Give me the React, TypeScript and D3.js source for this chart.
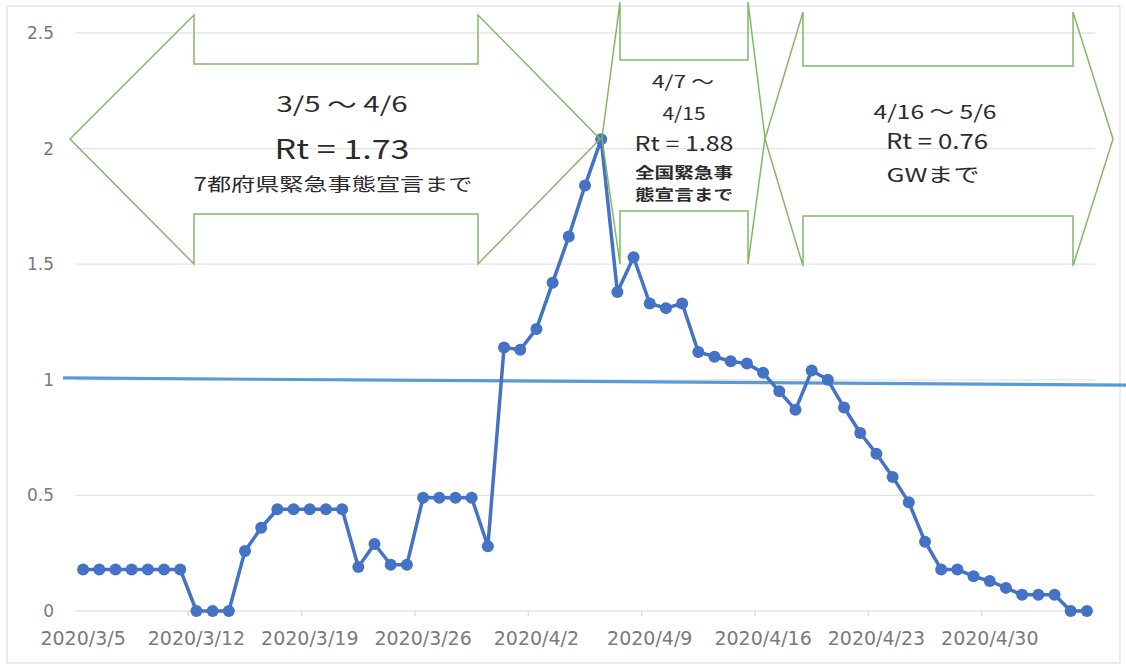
import React from 'react';
import * as d3 from 'd3';

// daily effective reproduction number, 2020/3/5 .. 2020/5/6
const startDay = new Date(2020, 2, 5);
const endDay = new Date(2020, 4, 7);
const days = d3.timeDay.range(startDay, endDay);
const fmtDay = d3.timeFormat('%Y/%-m/%-d');
const categories = days.map(fmtDay);

const rtValues = [
  0.18, 0.18, 0.18, 0.18, 0.18, 0.18, 0.18,
  0, 0, 0,
  0.26, 0.36, 0.44, 0.44, 0.44, 0.44, 0.44,
  0.19, 0.29, 0.2, 0.2,
  0.49, 0.49, 0.49, 0.49, 0.28,
  1.14, 1.13, 1.22, 1.42, 1.62, 1.84, 2.04,
  1.38, 1.53, 1.33, 1.31, 1.33, 1.12, 1.1, 1.08, 1.07,
  1.03, 0.95, 0.87, 1.04, 1.0, 0.88, 0.77, 0.68, 0.58, 0.47, 0.3,
  0.18, 0.18, 0.15, 0.13, 0.1, 0.07, 0.07, 0.07, 0, 0,
];

const xTickLabels = ['2020/3/5', '2020/3/12', '2020/3/19', '2020/3/26', '2020/4/2', '2020/4/9', '2020/4/16', '2020/4/23', '2020/4/30'];
const yTicks = [0, 0.5, 1, 1.5, 2, 2.5];

// hand-drawn Rt = 1 line (index, value at both ends)
const refLineIdx = [-1.25, 64.5];
const refLineVals = [1.008, 0.977];

// annotation arrows (shapes placed on top of the chart)
const arrows = [
  { xl: 70, bl: 194, br: 478, xr: 600, top: 15, sTop: 64, sBot: 214, bot: 264, cy: 139 },
  { xl: 602, bl: 620, br: 748, xr: 765, top: 2, sTop: 60, sBot: 211, bot: 264, cy: 138 },
  { xl: 765, bl: 803, br: 1073, xr: 1113, top: 12, sTop: 66, sBot: 216, bot: 266, cy: 139 },
];

const notes = [
  { text: '3/5 ～ 4/6', x: 342, y: 103, size: 21, w: 131 },
  { text: 'Rt = 1.73', x: 342, y: 147, size: 27, w: 135 },
  { text: '7都府県緊急事態宣言まで', x: 333, y: 183, size: 18, w: 279 },
  { text: '4/7 ～', x: 683, y: 80, size: 17, w: 62 },
  { text: '4/15', x: 684, y: 112, size: 18, w: 43 },
  { text: 'Rt = 1.88', x: 684, y: 142, size: 20, w: 99 },
  { text: '全国緊急事', x: 684, y: 171, size: 14.5, w: 98, bold: true },
  { text: '態宣言まで', x: 684, y: 193, size: 14.5, w: 98, bold: true },
  { text: '4/16 ～ 5/6', x: 935, y: 110, size: 19, w: 123 },
  { text: 'Rt = 0.76', x: 937, y: 140, size: 21, w: 102 },
  { text: 'GWまで', x: 933, y: 173, size: 19, w: 93 },
];

const W = 1126;
const H = 666;

export default function App() {
  const x = d3.scaleLinear().domain([-0.5, categories.length - 0.5]).range([75, 1095]);
  const y = d3.scaleLinear().domain([0, 2.5]).range([611, 33]);

  const line = d3.line<number>().x((_, i) => x(i)).y(d => y(d));
  const refLine = d3.line<number>().x((_, i) => x(refLineIdx[i])).y(d => y(d));

  const tickIdx = d3.range(6.5, categories.length - 1, 7);

  const arrowPath = (a: typeof arrows[number]) =>
    `M${a.xl},${a.cy} L${a.bl},${a.top} L${a.bl},${a.sTop} L${a.br},${a.sTop} L${a.br},${a.top} ` +
    `L${a.xr},${a.cy} L${a.br},${a.bot} L${a.br},${a.sBot} L${a.bl},${a.sBot} L${a.bl},${a.bot} Z`;

  return (
    <svg width={W} height={H} style={{ position: 'absolute', left: 0, top: 0, background: '#fff' }}>
      <rect x={7} y={6} width={1113} height={657} fill="#fff" stroke="#d9d9d9" />

      {/* grid */}
      {yTicks.map(t => (
        <line key={t} x1={x(-0.5)} x2={x(categories.length - 0.5)} y1={y(t)} y2={y(t)} stroke="#e4e4e4" strokeWidth={1.3} />
      ))}
      {tickIdx.map(t => (
        <line key={t} x1={x(t)} x2={x(t)} y1={y(0)} y2={y(0) + 5} stroke="#d9d9d9" strokeWidth={1.3} />
      ))}

      {/* y labels */}
      {yTicks.map(t => (
        <text key={t} x={54} y={y(t)} textAnchor="end" dominantBaseline="central"
          fontFamily="DejaVu Sans" fontSize={17} fill="#7a7a7a">{t}</text>
      ))}

      {/* x labels */}
      {xTickLabels.map(l => (
        <text key={l} x={x(categories.indexOf(l))} y={638} textAnchor="middle" dominantBaseline="central"
          fontFamily="DejaVu Sans" fontSize={19} fill="#7a7a7a">{l}</text>
      ))}

      {/* Rt = 1 */}
      <path d={refLine(refLineVals) || ''} fill="none" stroke="#5b9bd5" strokeWidth={3.2} />

      {/* series */}
      <path d={line(rtValues) || ''} fill="none" stroke="#4472c4" strokeWidth={3.5} strokeLinejoin="round" />
      {rtValues.map((v, i) => (
        <circle key={i} cx={x(i)} cy={y(v)} r={6} fill="#4472c4" />
      ))}

      {/* arrows */}
      {arrows.map((a, i) => (
        <path key={i} d={arrowPath(a)} fill="none" stroke="#82b866" strokeWidth={1.5} strokeLinejoin="miter" />
      ))}

      {notes.map(n => (
        <text key={n.text} x={n.x} y={n.y} textAnchor="middle" dominantBaseline="central"
          fontFamily="'Noto Sans CJK JP'" fontSize={n.size} fontWeight={n.bold ? 700 : 400}
          textLength={n.w} lengthAdjust="spacingAndGlyphs" fill="#2b2b2b">{n.text}</text>
      ))}
    </svg>
  );
}
